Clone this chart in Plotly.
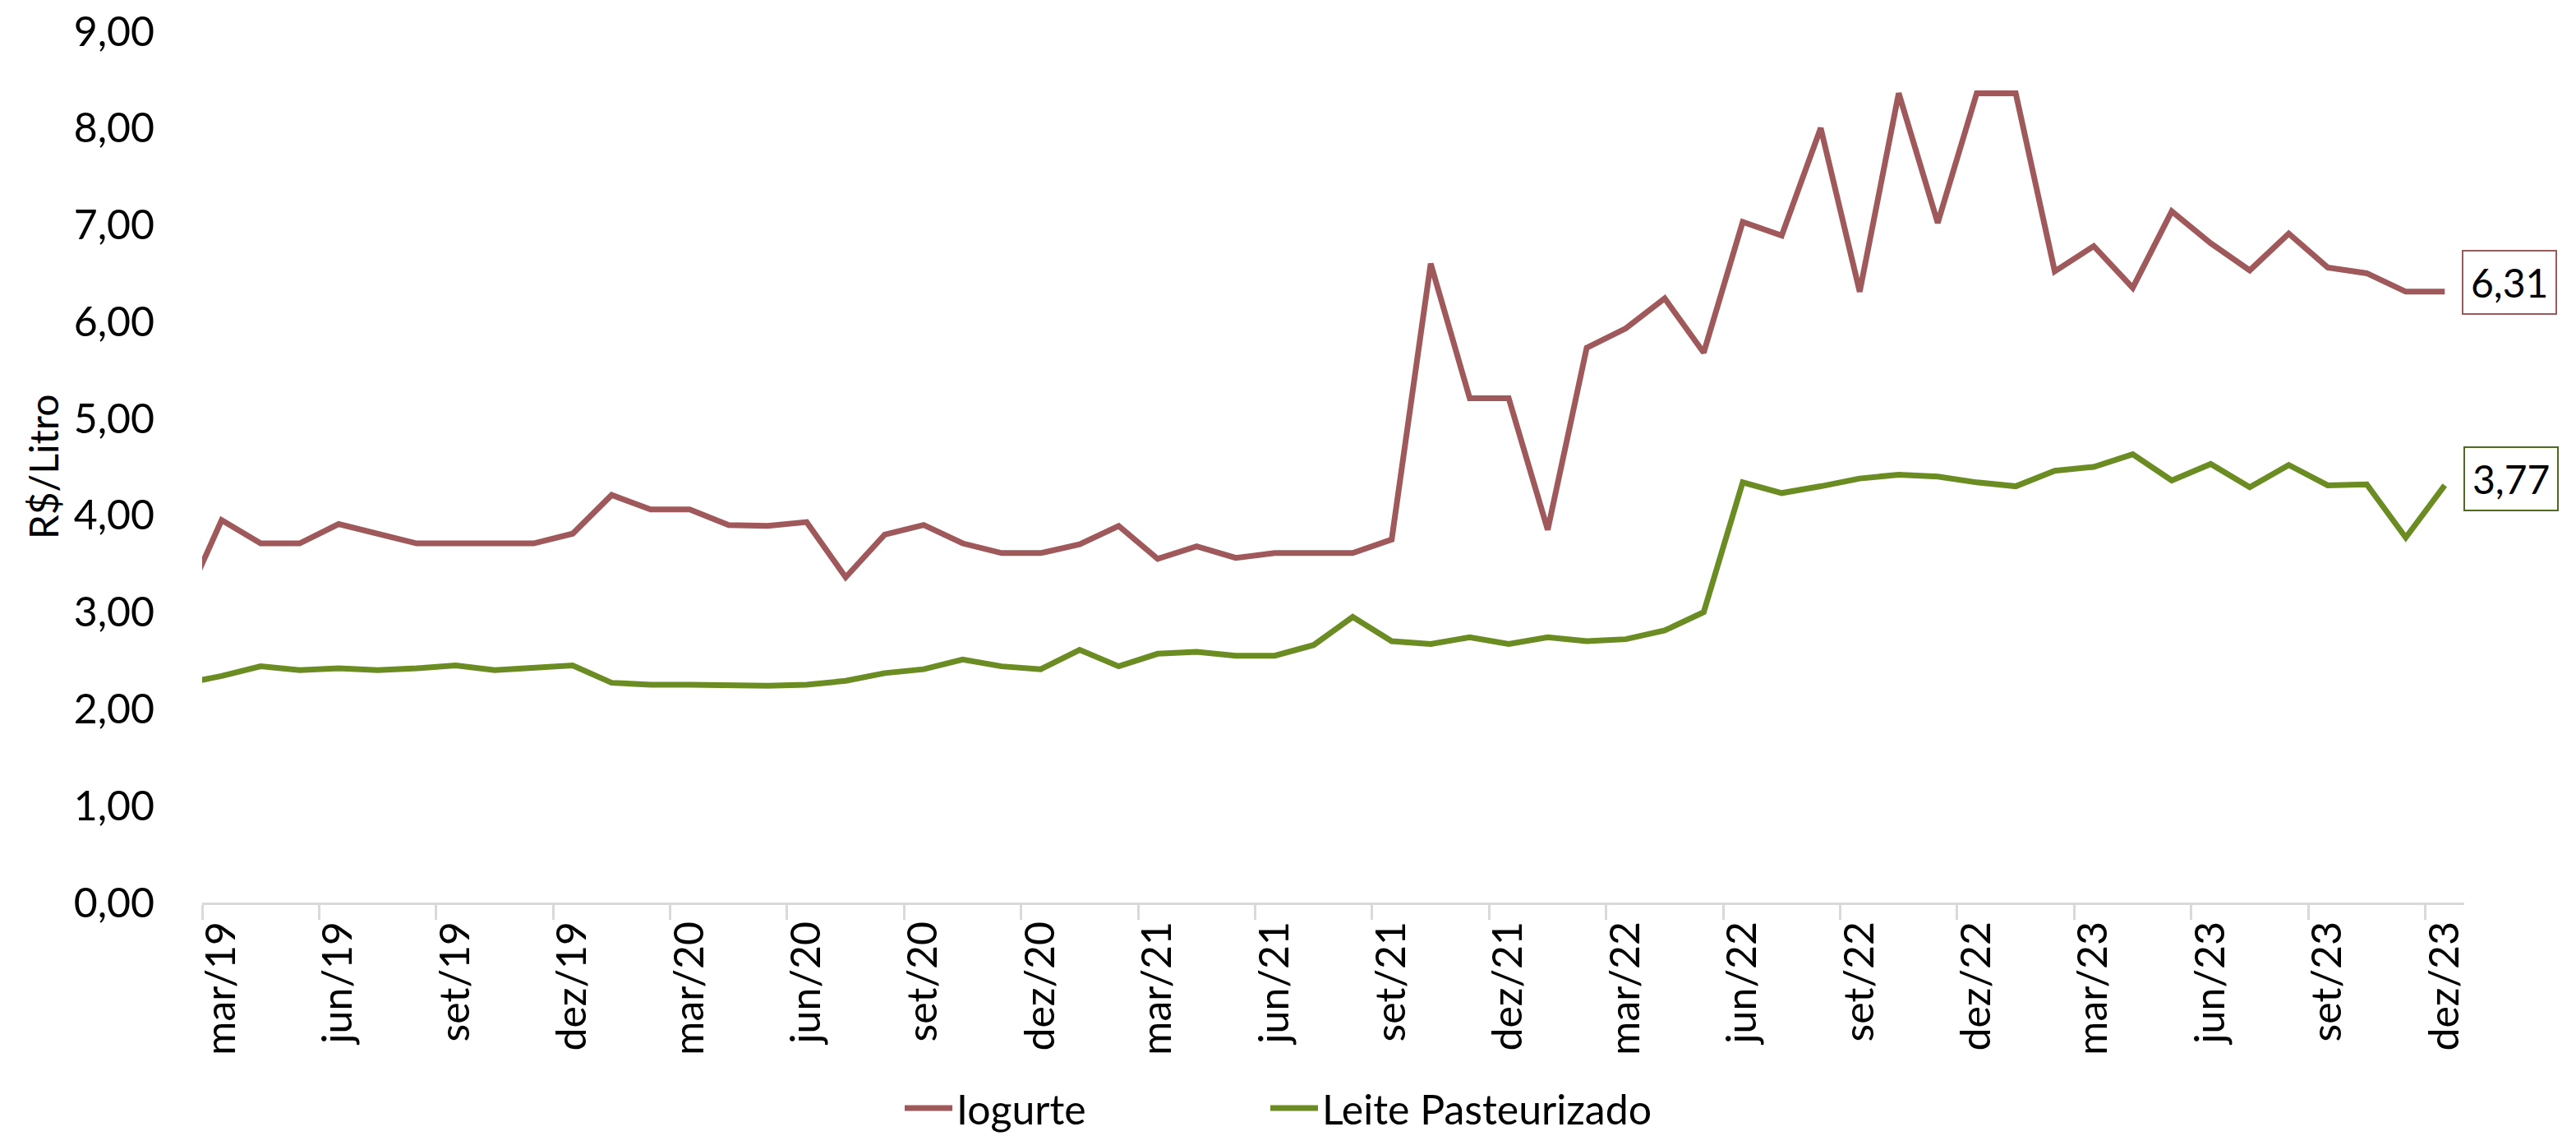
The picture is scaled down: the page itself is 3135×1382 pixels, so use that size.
import plotly.graph_objects as go

# meses (fev/19 só aparece cortado na borda esquerda)
meses = [
    "fev/19", "mar/19", "abr/19", "mai/19", "jun/19", "jul/19", "ago/19", "set/19", "out/19", "nov/19", "dez/19",
    "jan/20", "fev/20", "mar/20", "abr/20", "mai/20", "jun/20", "jul/20", "ago/20", "set/20", "out/20", "nov/20", "dez/20",
    "jan/21", "fev/21", "mar/21", "abr/21", "mai/21", "jun/21", "jul/21", "ago/21", "set/21", "out/21", "nov/21", "dez/21",
    "jan/22", "fev/22", "mar/22", "abr/22", "mai/22", "jun/22", "jul/22", "ago/22", "set/22", "out/22", "nov/22", "dez/22",
    "jan/23", "fev/23", "mar/23", "abr/23", "mai/23", "jun/23", "jul/23", "ago/23", "set/23", "out/23", "nov/23", "dez/23",
]

iogurte = [
    3.05, 3.95, 3.71, 3.71, 3.91, 3.81, 3.71, 3.71, 3.71, 3.71, 3.81,
    4.21, 4.06, 4.06, 3.90, 3.89, 3.93, 3.36, 3.80, 3.90, 3.71, 3.61, 3.61,
    3.70, 3.89, 3.55, 3.68, 3.56, 3.61, 3.61, 3.61, 3.75, 6.60, 5.21, 5.21,
    3.85, 5.73, 5.93, 6.24, 5.68, 7.03, 6.89, 8.00, 6.31, 8.36, 7.02, 8.36,
    8.36, 6.52, 6.78, 6.35, 7.14, 6.81, 6.53, 6.91, 6.56, 6.50, 6.31, 6.31,
]

leite = [
    2.26, 2.34, 2.44, 2.40, 2.42, 2.40, 2.42, 2.45, 2.40, 2.42, 2.45,
    2.27, 2.25, 2.25, 2.24, 2.24, 2.25, 2.29, 2.37, 2.41, 2.51, 2.44, 2.41,
    2.61, 2.44, 2.57, 2.59, 2.55, 2.55, 2.66, 2.95, 2.70, 2.67, 2.74, 2.67,
    2.74, 2.70, 2.72, 2.81, 3.00, 4.34, 4.23, 4.30, 4.38, 4.42, 4.40, 4.34,
    4.30, 4.46, 4.50, 4.63, 4.36, 4.53, 4.29, 4.52, 4.31, 4.32, 3.77, 4.31,
]

cor_iogurte = "#A0595A"
cor_leite = "#6A8C22"
fonte = "Lato, sans-serif"

fig = go.Figure()
fig.add_trace(go.Scatter(x=meses, y=iogurte, name="Iogurte", mode="lines",
                         line=dict(color=cor_iogurte, width=7), legend="legend"))
fig.add_trace(go.Scatter(x=meses, y=leite, name="Leite Pasteurizado", mode="lines",
                         line=dict(color=cor_leite, width=7), legend="legend2"))

def rotulo(v):
    return f"{v:.2f}".replace(".", ",")

# rótulos de dados (valores de nov/23), colocados à direita da série
fig.add_annotation(x=meses[-1], y=iogurte[-1], text=rotulo(iogurte[-2]), showarrow=False,
                   xanchor="center", yanchor="middle", xshift=79, yshift=11,
                   bordercolor=cor_iogurte, borderwidth=2, borderpad=9, bgcolor="white",
                   font=dict(family=fonte, size=48, color="black"))
fig.add_annotation(x=meses[-1], y=leite[-1], text=rotulo(leite[-2]), showarrow=False,
                   xanchor="center", yanchor="middle", xshift=81, yshift=8,
                   bordercolor="#4F6B1E", borderwidth=2, borderpad=9, bgcolor="white",
                   font=dict(family=fonte, size=48, color="black"))

fig.update_xaxes(type="category", range=[0.5, 58.5], tickmode="linear", tick0=1, dtick=3,
                 tickson="boundaries", ticks="outside", ticklen=18, tickwidth=3,
                 tickcolor="#D9D9D9", showline=True, linecolor="#D9D9D9", linewidth=3,
                 tickangle=-90, showgrid=False, automargin=False,
                 tickfont=dict(family=fonte, size=50, color="black"))
fig.update_yaxes(range=[0, 9], dtick=1, tickformat=".2f", showgrid=False, showline=False,
                 zeroline=False, ticks="", ticklabelstandoff=57, automargin=False,
                 ticklabeloverflow="allow",
                 tickfont=dict(family=fonte, size=50, color="black"),
                 title=dict(text="R$/Litro", standoff=2,
                            font=dict(family=fonte, size=48, color="black")))

leg = dict(orientation="h", xanchor="left", y=-(1348 - 1098) / 1060, yanchor="middle",
           font=dict(family=fonte, size=50, color="black"), itemwidth=58,
           bgcolor="rgba(0,0,0,0)")

# a página tem 8px de margem no body: figura um pouco menor que a janela
fig.update_layout(
    width=3127, height=1374, autosize=False,
    separators=",.",
    plot_bgcolor="white", paper_bgcolor="white",
    margin=dict(l=238, r=136, t=30, b=284, autoexpand=False),
    showlegend=True,
    legend=dict(leg, x=(1096 - 246) / 2753),
    legend2=dict(leg, x=(1541 - 246) / 2753),
)

fig.write_html("out.html")
